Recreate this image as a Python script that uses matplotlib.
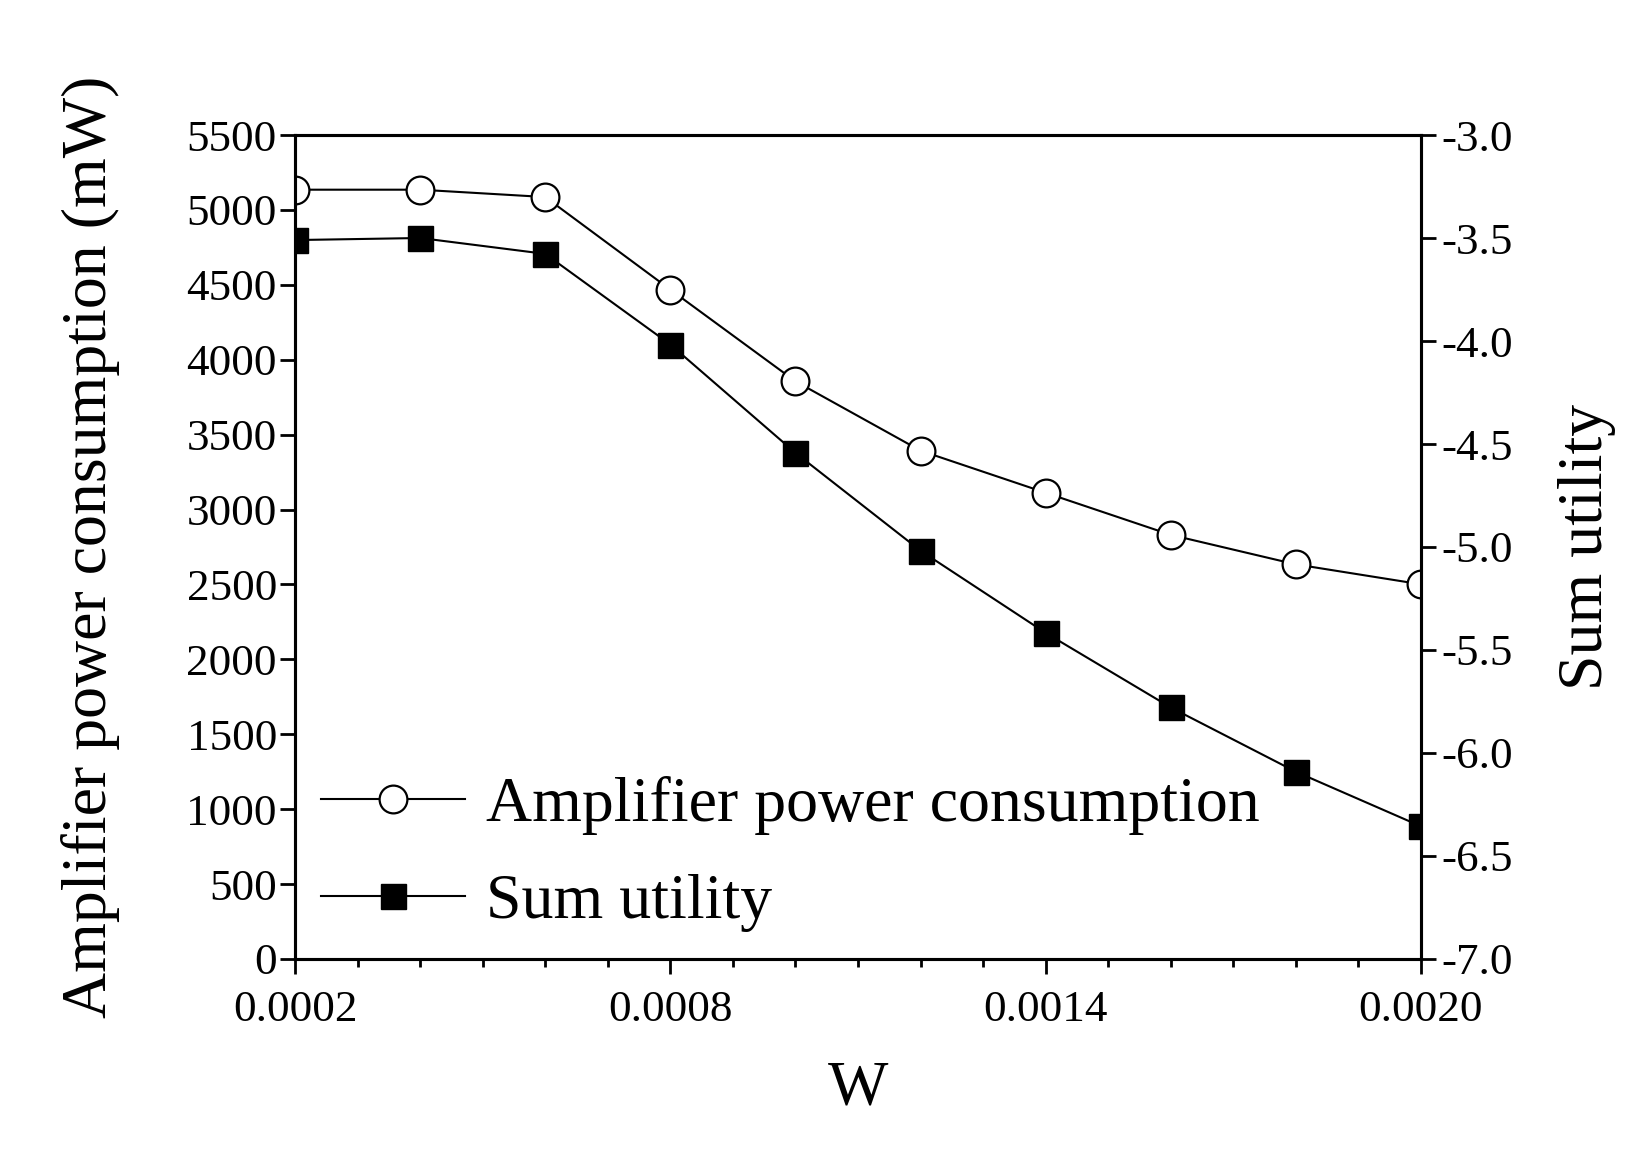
import matplotlib
matplotlib.use("Agg")
import matplotlib.pyplot as plt
from matplotlib.ticker import MultipleLocator, FixedLocator, FormatStrFormatter

plt.rcParams['font.family'] = ['Liberation Serif', 'DejaVu Serif']
plt.rcParams['mathtext.fontset'] = 'stix'

W = [0.0002, 0.0004, 0.0006, 0.0008, 0.0010, 0.0012, 0.0014, 0.0016, 0.0018, 0.0020]
amp_power = [5135, 5135, 5086, 4468, 3856, 3393, 3112, 2831, 2634, 2501]
sum_utility = [-3.51, -3.50, -3.577, -4.017, -4.543, -5.018, -5.417, -5.779, -6.091, -6.356]
x_major_ticks = [0.0002, 0.0008, 0.0014, 0.0020]

fig = plt.figure(figsize=(16.5, 11.5), dpi=100)
ax = fig.add_axes([0.1788, 0.1661, 0.8612 - 0.1788, 0.8826 - 0.1661])
ax2 = ax.twinx()

l1, = ax.plot(W, amp_power, color='black', lw=1.5, marker='o', ms=20,
              mfc='white', mec='black', mew=1.6, label='Amplifier power consumption')
l2, = ax2.plot(W, sum_utility, color='black', lw=1.5, marker='s', ms=18,
               mfc='black', mec='black', mew=1.0, label='Sum utility')

ax.set_xlim(0.0002, 0.0020)
ax.set_ylim(0, 5500)
ax2.set_ylim(-7.0, -3.0)

ax.xaxis.set_major_locator(FixedLocator(x_major_ticks))
ax.xaxis.set_minor_locator(MultipleLocator(0.0001))
ax.xaxis.set_major_formatter(FormatStrFormatter('%.4f'))
ax.yaxis.set_major_locator(MultipleLocator(500))
ax2.yaxis.set_major_locator(MultipleLocator(0.5))
ax2.yaxis.set_major_formatter(FormatStrFormatter('%.1f'))

for a in (ax, ax2):
    for s in a.spines.values():
        s.set_linewidth(2.2)

TS = 32.5
ax.tick_params(axis='x', which='major', direction='out', length=11, width=2.0,
               labelsize=TS, pad=11, top=False)
ax.tick_params(axis='x', which='minor', direction='out', length=6, width=2.0, top=False)
ax.tick_params(axis='y', which='major', direction='out', length=11, width=2.0,
               labelsize=TS, pad=2, right=False)
ax2.tick_params(axis='y', which='major', direction='out', length=11, width=2.0,
                labelsize=TS, pad=4)

ax.set_xlabel('W', fontsize=46, va='center')
ax.xaxis.set_label_coords(0.5, (959 - 1090) / 824)
ax.set_ylabel('Amplifier power consumption (mW)', fontsize=46, va='center')
ax.yaxis.set_label_coords((90 - 295) / 1126, 0.5)
ax2.set_ylabel('Sum utility', fontsize=46, va='center')
ax2.yaxis.set_label_coords((1587 - 295) / 1126, 0.5)

leg = ax2.legend(handles=[l1, l2], loc='center left',
                 bbox_to_anchor=((321 - 295) / 1126, (959 - 854) / 824),
                 frameon=False, fontsize=46, handlelength=2.25, handletextpad=0.33,
                 labelspacing=0.6, borderpad=0, borderaxespad=0)

fig.savefig('out.png', dpi=100)
